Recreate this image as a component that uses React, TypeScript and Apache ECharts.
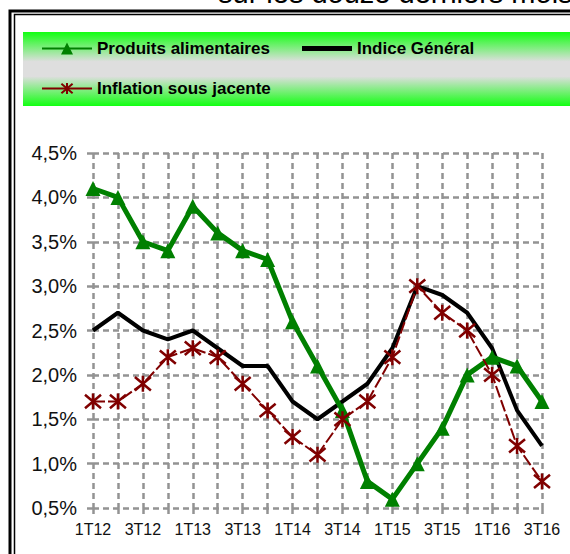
import React, { useEffect, useRef } from "react";
import * as echarts from "echarts";

const categories = [
  "1T12", "2T12", "3T12", "4T12",
  "1T13", "2T13", "3T13", "4T13",
  "1T14", "2T14", "3T14", "4T14",
  "1T15", "2T15", "3T15", "4T15",
  "1T16", "2T16", "3T16",
];

const produitsAlimentaires = [4.1, 4.0, 3.5, 3.4, 3.9, 3.6, 3.4, 3.3, 2.6, 2.1, 1.6, 0.8, 0.6, 1.0, 1.4, 2.0, 2.2, 2.1, 1.7];
const indiceGeneral = [2.5, 2.7, 2.5, 2.4, 2.5, 2.3, 2.1, 2.1, 1.7, 1.5, 1.7, 1.9, 2.3, 3.0, 2.9, 2.7, 2.3, 1.6, 1.2];
const inflationSousJacente = [1.7, 1.7, 1.9, 2.2, 2.3, 2.2, 1.9, 1.6, 1.3, 1.1, 1.5, 1.7, 2.2, 3.0, 2.7, 2.5, 2.0, 1.2, 0.8];

const seriesNames = ["Produits alimentaires", "Indice Général", "Inflation sous jacente"];
const titleText = "sur les douze derniers mois";

const FONT = "Arial, 'Liberation Sans', sans-serif";
const GRID_COLOR = "#939393";
const STAR = "path://M0,0L10,10M10,0L0,10M5,-1L5,11";

export default function App() {
  const ref = useRef<HTMLDivElement>(null);

  useEffect(() => {
    if (!ref.current) return;
    const chart = echarts.init(ref.current, undefined, { renderer: "svg" });
    const legendText = { fontFamily: FONT, fontSize: 17, fontWeight: "bold" as const, color: "#000" };
    chart.setOption({
      animation: false,
      backgroundColor: "#fff",
      graphic: [
        {
          type: "rect",
          z: 0,
          shape: { x: 23, y: 32, width: 600, height: 74 },
          style: {
            fill: new echarts.graphic.LinearGradient(0, 0, 0, 1, [
              { offset: 0, color: "#12ff12" },
              { offset: 0.4, color: "#dedede" },
              { offset: 0.6, color: "#dedede" },
              { offset: 1, color: "#12ff12" },
            ]),
          },
        },
        {
          type: "rect",
          z: 0,
          shape: { x: 10, y: 11, width: 700, height: 700 },
          style: { fill: "none", stroke: "#000", lineWidth: 3 },
        },
        {
          type: "rect",
          z: 0,
          shape: { x: 14.5, y: 14.5, width: 700, height: 700 },
          style: { fill: "none", stroke: "#000", lineWidth: 1.5 },
        },
        {
          type: "text",
          z: 0,
          x: 218,
          y: 7,
          style: {
            text: titleText,
            fontFamily: FONT,
            fontSize: 29,
            fill: "#000",
            verticalAlign: "bottom",
          },
        },
      ],
      legend: [
        {
          z: 10,
          left: 41,
          top: 40,
          padding: 0,
          itemWidth: 50,
          itemHeight: 15,
          data: [seriesNames[0]],
          textStyle: legendText,
        },
        {
          z: 10,
          left: 302,
          top: 40,
          padding: 0,
          itemWidth: 50,
          itemHeight: 5,
          data: [{ name: seriesNames[1], icon: "rect" }],
          textStyle: legendText,
        },
        {
          z: 10,
          left: 41,
          top: 80,
          padding: 0,
          itemWidth: 50,
          itemHeight: 14,
          lineStyle: { type: "solid" },
          data: [seriesNames[2]],
          textStyle: legendText,
        },
      ],
      grid: { left: 93, right: 28, top: 153, bottom: 46, containLabel: false },
      xAxis: {
        type: "category",
        data: categories,
        boundaryGap: false,
        axisLine: { show: false },
        axisTick: {
          show: true,
          interval: 0,
          length: 8,
          lineStyle: { color: GRID_COLOR, width: 2.5, type: [6, 4] },
        },
        axisLabel: {
          interval: 1,
          margin: 13,
          fontFamily: FONT,
          fontSize: 16,
          color: "#111",
        },
        splitLine: {
          show: true,
          interval: 0,
          lineStyle: { color: GRID_COLOR, width: 2.5, type: [6, 4] },
        },
      },
      yAxis: {
        type: "value",
        min: 0.5,
        max: 4.5,
        interval: 0.5,
        axisLine: { show: false },
        axisTick: {
          show: true,
          length: 8,
          lineStyle: { color: GRID_COLOR, width: 2.5, type: [6, 4] },
        },
        axisLabel: {
          margin: 16,
          fontFamily: FONT,
          fontSize: 20,
          color: "#111",
          formatter: (v: number) => v.toFixed(1).replace(".", ",") + "%",
        },
        splitLine: {
          show: true,
          lineStyle: { color: GRID_COLOR, width: 2.5, type: [6, 4] },
        },
      },
      series: [
        {
          name: seriesNames[1],
          type: "line",
          z: 2,
          data: indiceGeneral,
          symbol: "none",
          color: "#000",
          itemStyle: { color: "#000" },
          lineStyle: { color: "#000", width: 4 },
        },
        {
          name: seriesNames[0],
          type: "line",
          z: 3,
          data: produitsAlimentaires,
          symbol: "triangle",
          symbolSize: 15,
          showAllSymbol: true,
          color: "#008000",
          itemStyle: { color: "#008000" },
          lineStyle: { color: "#008000", width: 5 },
        },
        {
          name: seriesNames[2],
          type: "line",
          z: 4,
          data: inflationSousJacente,
          symbol: STAR,
          symbolSize: 16,
          showAllSymbol: true,
          color: "#800000",
          itemStyle: { color: "#800000", borderColor: "#800000", borderWidth: 2.5 },
          lineStyle: { color: "#800000", width: 2, type: [12, 3] },
        },
      ],
    });
    return () => chart.dispose();
  }, []);

  return (
    <div
      ref={ref}
      style={{ position: "fixed", left: 0, top: 0, width: 570, height: 554 }}
    />
  );
}
